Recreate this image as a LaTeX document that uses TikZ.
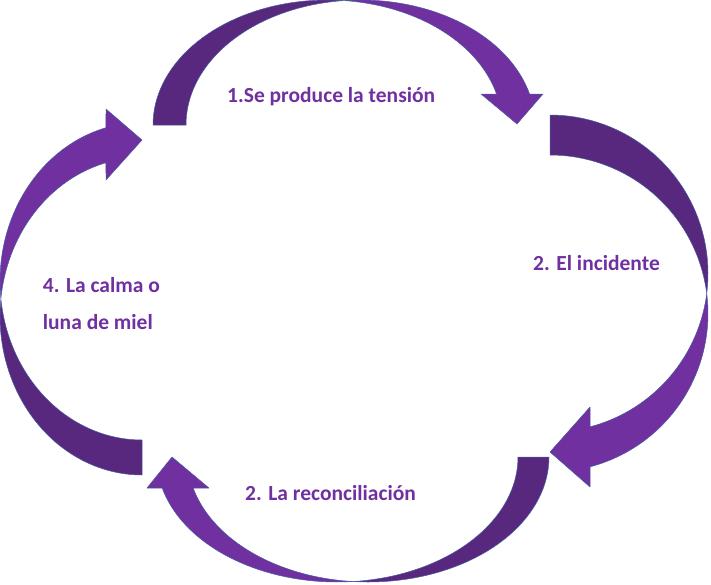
\documentclass[tikz,border=0pt]{standalone}
\usepackage{fontspec}
\setmainfont{Carlito}
\usepackage{xcolor}
\usepackage{tikz}
\definecolor{cyclelight}{RGB}{112,48,160}
\definecolor{cycledark}{RGB}{88,40,126}
\definecolor{cycleedge}{RGB}{70,95,160}

\begin{document}
\begin{tikzpicture}[x=1pt,y=-1pt,
    ribbonback/.style={fill=cycledark,draw=cycleedge,line width=0.5pt,line join=round},
    ribbonfront/.style={fill=cyclelight,draw=cycleedge,line width=0.5pt,line join=round},
    phase/.style={text=cyclelight,font=\fontsize{21.5}{37}\selectfont\bfseries,inner sep=0pt,anchor=base west,align=left}]
    \useasboundingbox (0,0) rectangle (711,584);

    % Top arrow
    \filldraw[ribbonback] plot[domain=-180:-84.57,samples=40] ({327.5+174.5*cos(\x)},{125+125*sin(\x)})
      -- plot[domain=-95.43:-180,samples=40] ({360.5+174.5*cos(\x)},{125+125*sin(\x)}) -- cycle;
    \filldraw[ribbonfront] plot[domain=-95.43:-14.36,samples=40] ({360.5+174.5*cos(\x)},{125+125*sin(\x)})
      -- (543,94) -- (517,124) -- (481,94)
      -- plot[domain=-14.36:-84.57,samples=40] ({327.5+174.5*cos(\x)},{125+125*sin(\x)}) -- cycle;

    % Right arrow
    \filldraw[ribbonback] plot[domain=-90:7.25,samples=40] ({550+158*cos(\x)},{273.5+158.5*sin(\x)})
      -- plot[domain=-7.25:-90,samples=40] ({550+158*cos(\x)},{313.5+158.5*sin(\x)}) -- cycle;
    \filldraw[ribbonfront] plot[domain=-7.25:75.33,samples=40] ({550+158*cos(\x)},{313.5+158.5*sin(\x)})
      -- (590,487) -- (550,452) -- (590,407)
      -- plot[domain=75.33:7.25,samples=40] ({550+158*cos(\x)},{273.5+158.5*sin(\x)}) -- cycle;

    % Bottom arrow
    \filldraw[ribbonback] plot[domain=0:94.92,samples=40] ({368.25+180.75*cos(\x)},{457+125*sin(\x)})
      -- plot[domain=85.08:0,samples=40] ({337.25+180.75*cos(\x)},{457+125*sin(\x)}) -- cycle;
    \filldraw[ribbonfront] plot[domain=85.08:165.64,samples=40] ({337.25+180.75*cos(\x)},{457+125*sin(\x)})
      -- (147,488) -- (172,457) -- (209,488)
      -- plot[domain=165.64:94.92,samples=40] ({368.25+180.75*cos(\x)},{457+125*sin(\x)}) -- cycle;

    % Left arrow
    \filldraw[ribbonback] plot[domain=90:186.33,samples=40] ({142+142*cos(\x)},{316.25+158.75*sin(\x)})
      -- plot[domain=173.67:90,samples=40] ({142+142*cos(\x)},{281.25+158.75*sin(\x)}) -- cycle;
    \filldraw[ribbonfront] plot[domain=173.67:255.31,samples=40] ({142+142*cos(\x)},{281.25+158.75*sin(\x)})
      -- (106,109) -- (142,140) -- (106,180)
      -- plot[domain=255.31:186.33,samples=40] ({142+142*cos(\x)},{316.25+158.75*sin(\x)}) -- cycle;

    % Labels
    \node[phase] (tension) at (227,102.7) {1.Se produce la tensión};
    \node[phase] (incidente) at (533,270) {2. El incidente};
    \node[phase] (reconciliacion) at (245,500) {2. La reconciliación};
    \node[phase] (calma) at (42.7,329.7) {4. La calma o\\luna de miel};
\end{tikzpicture}
\end{document}
